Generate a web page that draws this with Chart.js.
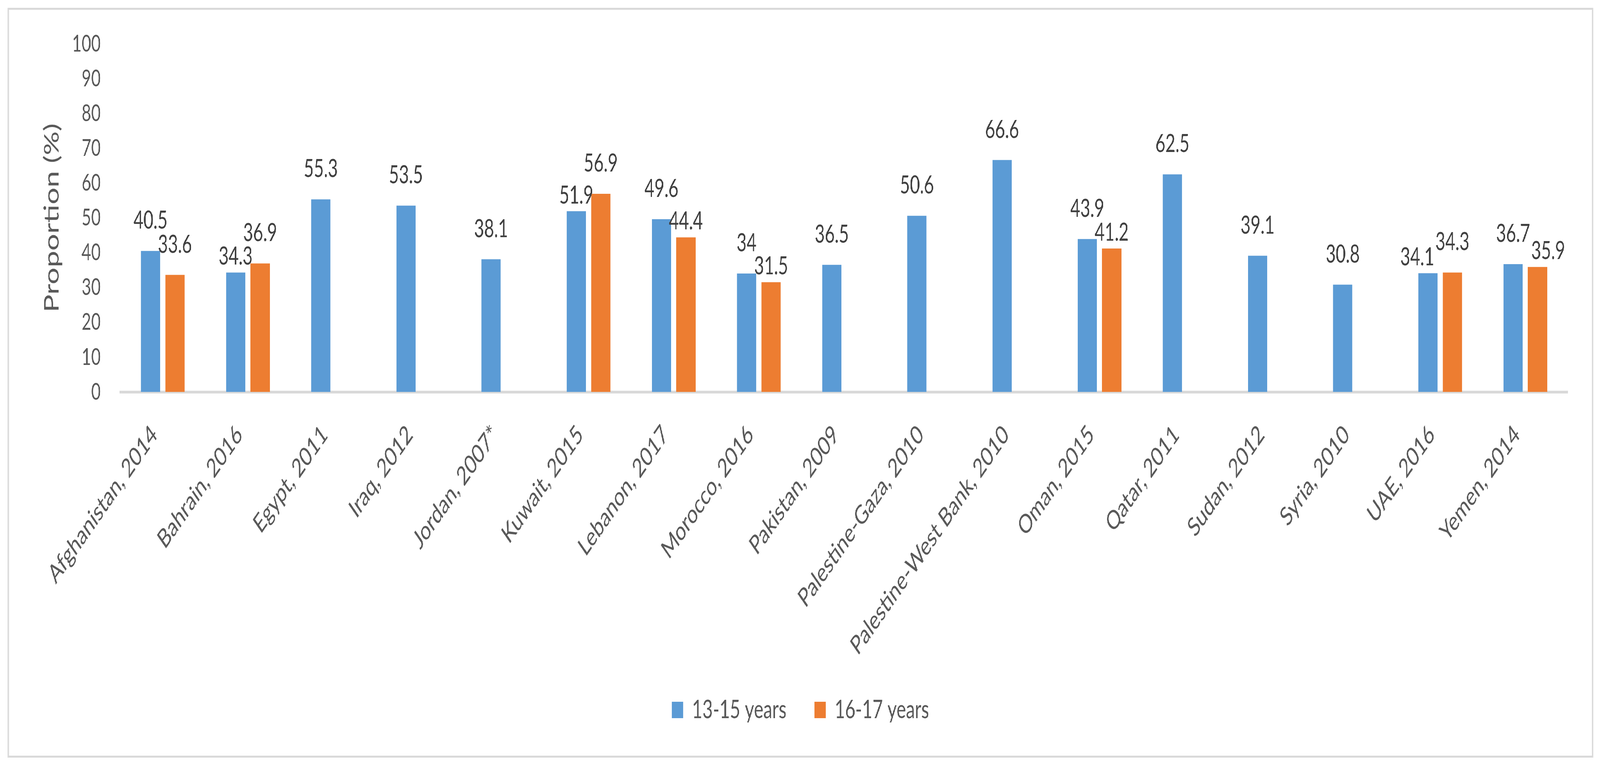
<!DOCTYPE html>
<html>
<head>
<meta charset="utf-8">
<script src="https://cdn.jsdelivr.net/npm/chart.js@4.4.0/dist/chart.umd.min.js"></script>
<style>
    html, body { margin: 0; padding: 0; background: #fff; overflow: hidden; }
    #page {
        position: absolute; left: 0; top: 0;
        width: 5926px; height: 1963px;
        transform-origin: 0 0;
    }
    #frame {
        position: absolute; left: 28px; top: 20px;
        width: 5873px; height: 1919px;
        border: 5px solid #d9d9d9; box-sizing: border-box;
    }
    canvas { display: block; }
</style>
</head>
<body>
<div id="page"><div id="frame"><canvas id="barChart" width="5863" height="1909"></canvas></div></div>
<script>
/*global Chart, document, window*/
'use strict';

// categories and series
var countries = ["Afghanistan, 2014", "Bahrain, 2016", "Egypt, 2011", "Iraq, 2012", "Jordan, 2007*",
    "Kuwait, 2015", "Lebanon, 2017", "Morocco, 2016", "Pakistan, 2009", "Palestine-Gaza, 2010",
    "Palestine-West Bank, 2010", "Oman, 2015", "Qatar, 2011", "Sudan, 2012", "Syria, 2010",
    "UAE, 2016", "Yemen, 2014"];
var years13to15 = [40.5, 34.3, 55.3, 53.5, 38.1, 51.9, 49.6, 34, 36.5, 50.6, 66.6, 43.9, 62.5, 39.1, 30.8, 34.1, 36.7];
var years16to17 = [33.6, 36.9, null, null, null, 56.9, 44.4, 31.5, null, null, null, 41.2, null, null, null, 34.3, 35.9];
var seriesNames = ["13-15 years", "16-17 years"];
var yTicks = [0, 10, 20, 30, 40, 50, 60, 70, 80, 90, 100];

// Office colours
var blue = '#5B9BD5';
var orange = '#ED7D31';
var axisGrey = '#d9d9d9';
var textGrey = '#595959';

// stretch the 5926x1963 drawing onto whatever viewport we get
var sx = window.innerWidth / 5926;
var sy = window.innerHeight / 1963;
document.getElementById('page').style.transform = 'scale(' + sx + ',' + sy + ')';

// pick a Lato size that gives the text the width it has in the picture
var measureCtx = document.createElement('canvas').getContext('2d');
function sizeFor(text, width) {
    measureCtx.font = '100px Lato';
    return 100 * width / measureCtx.measureText(text).width;
}
var tickSize = sizeFor('100', 106);
var xTickSize = (sizeFor('Afghanistan, 2014', 535) + sizeFor('Palestine-West Bank, 2010', 800)) / 2;
var legendSize = sizeFor('13-15 years', 350);
var valueSize = sizeFor('66.6', 126);
var titleSize = sizeFor('Proportion (%)', 484);

Chart.defaults.font.family = 'Lato';
Chart.defaults.font.size = tickSize;
Chart.defaults.color = textGrey;

// plot area inside the canvas: left 412, right 89, top 87, bottom at 978
var legendPad = 103;
var legendBottomPad = 1909 - 1792 - legendSize / 2 - 10;
var legendTop = 1909 - legendBottomPad - (legendSize + legendPad + 10);
var xHalfLine = xTickSize * 1.2 / 2 * Math.SQRT1_2;

// ------------------------------------------------------- //
// value labels above the bars
// ------------------------------------------------------ //
var valueLabels = {
    id: 'valueLabels',
    afterDatasetsDraw: function (chart) {
        var ctx = chart.ctx;
        ctx.save();
        ctx.font = valueSize + 'px Lato';
        ctx.fillStyle = '#404040';
        ctx.textAlign = 'center';
        ctx.textBaseline = 'alphabetic';
        chart.data.labels.forEach(function (c, i) {
            var items = [];
            chart.data.datasets.forEach(function (ds, d) {
                var v = ds.data[i];
                if (v === null) {
                    return;
                }
                var bar = chart.getDatasetMeta(d).data[i];
                var text = String(v);
                items.push({text: text, x: bar.x, y: bar.y - 57, w: ctx.measureText(text).width, top: bar.y, d: d});
            });
            if (items.length === 2) {
                var a = items[0].top <= items[1].top ? items[0] : items[1];
                var b = a === items[0] ? items[1] : items[0];
                var overlap = function () {
                    return Math.abs(a.x - b.x) < (a.w + b.w) / 2 + 4 && Math.abs(a.y - b.y) < 50;
                };
                if (overlap()) {
                    b.y = b.top - 20;
                }
                if (overlap()) {
                    var need = (a.w + b.w) / 2 + 4 - Math.abs(a.x - b.x);
                    b.x += (b.d === 1 ? need : -need);
                }
            }
            items.forEach(function (it) {
                ctx.fillText(it.text, it.x, it.y);
            });
        });
        ctx.restore();
    }
};

var BARCHART = document.getElementById('barChart');
var myBarChart = new Chart(BARCHART, {
    type: 'bar',
    plugins: [valueLabels],
    data: {
        labels: countries,
        datasets: [
            {
                label: seriesNames[0],
                data: years13to15,
                backgroundColor: blue,
                borderWidth: 0,
                categoryPercentage: 0.575,
                barPercentage: 0.785
            },
            {
                label: seriesNames[1],
                data: years16to17,
                backgroundColor: orange,
                borderWidth: 0,
                categoryPercentage: 0.575,
                barPercentage: 0.785
            }
        ]
    },
    options: {
        responsive: false,
        animation: false,
        devicePixelRatio: 1,
        layout: {
            padding: {top: 87, left: 0, right: 0, bottom: legendBottomPad}
        },
        plugins: {
            legend: {
                display: true,
                position: 'bottom',
                labels: {
                    boxWidth: 42,
                    boxHeight: 42,
                    padding: legendPad,
                    color: textGrey,
                    font: {size: legendSize}
                }
            },
            tooltip: {enabled: false}
        },
        scales: {
            x: {
                grid: {display: false},
                border: {display: true, color: axisGrey, width: 7},
                ticks: {
                    autoSkip: false,
                    maxRotation: 45,
                    minRotation: 45,
                    padding: 90 - xHalfLine,
                    labelOffset: -3 - xHalfLine,
                    color: textGrey,
                    font: {size: xTickSize}
                },
                afterFit: function (scale) {
                    scale.height = legendTop - 978;
                    scale.paddingLeft = 0;
                    scale.paddingRight = 0;
                    // long rotated labels run into the legend's padding band
                    scale._computeLabelArea = function () {
                        return undefined;
                    };
                }
            },
            y: {
                min: yTicks[0],
                max: yTicks[yTicks.length - 1],
                grid: {display: false, drawTicks: false},
                border: {display: false},
                ticks: {
                    stepSize: yTicks[1] - yTicks[0],
                    padding: 72,
                    color: textGrey,
                    font: {size: tickSize}
                },
                title: {
                    display: true,
                    text: 'Proportion (%)',
                    color: textGrey,
                    font: {size: titleSize},
                    padding: {top: 159 - titleSize * 0.6, bottom: 0}
                },
                afterFit: function (scale) {
                    scale.width = 412;
                    scale.paddingTop = 0;
                    scale.paddingBottom = 0;
                }
            },
            yRight: {
                position: 'right',
                display: true,
                grid: {display: false, drawTicks: false},
                border: {display: false},
                ticks: {display: false},
                afterFit: function (scale) {
                    scale.width = 89;
                }
            }
        }
    }
});
</script>
</body>
</html>
